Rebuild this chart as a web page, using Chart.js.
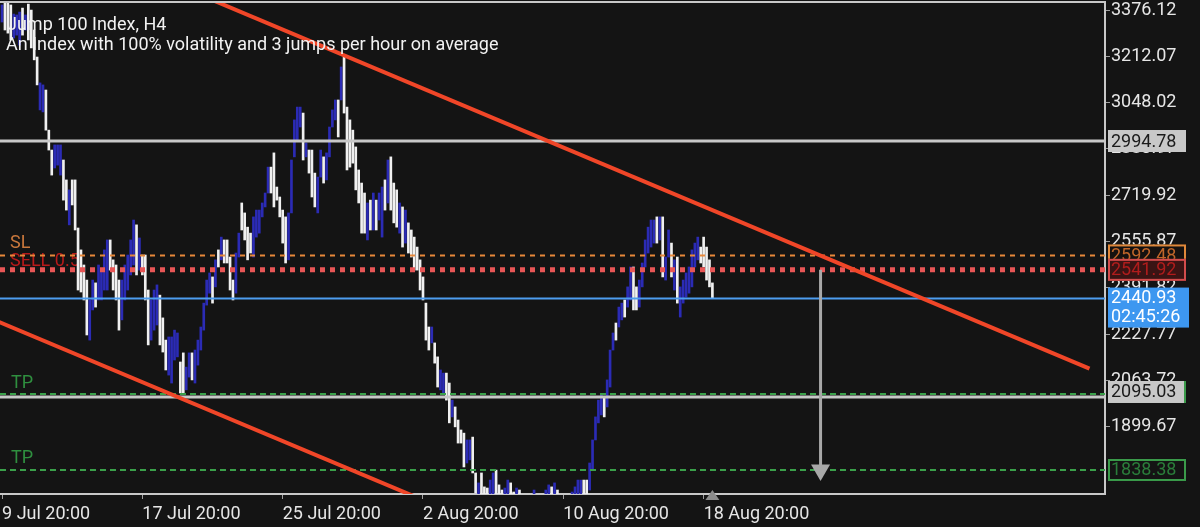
<!DOCTYPE html>
<html>
<head>
<meta charset="utf-8">
<title>Jump 100 Index, H4</title>
<script src="https://cdn.jsdelivr.net/npm/chart.js@4.4.1/dist/chart.umd.min.js"></script>
<style>
  html, body { margin: 0; padding: 0; background: #141414; }
  canvas { display: block; }
</style>
</head>
<body>
<canvas id="chart" width="1200" height="527"></canvas>
<script>
(() => {
	'use strict'

	// H4 bars, one per 4 hours starting 9 Jul 20:00 (open / close, bars look like plain lines)
	const barOpens = [
		3413, 3480, 3480, 3473, 3357, 3367, 3332, 3462, 3385, 3476,
		3455, 3385, 3290, 3104, 3097, 3174, 3033, 2963, 2900, 2910,
		2875, 2928, 2858, 2700, 2858, 2858, 2689, 2612, 2559, 2506,
		2295, 2401, 2496, 2436, 2436, 2471, 2471, 2647, 2577, 2559,
		2506, 2366, 2436, 2471, 2524, 2559, 2700, 2541, 2594, 2594,
		2471, 2295, 2330, 2348, 2453, 2373, 2295, 2172, 2144, 2225,
		2236, 2218, 2250, 2120, 2165, 2250, 2144, 2207, 2260, 2330,
		2418, 2460, 2517, 2482, 2612, 2577, 2647, 2647, 2587, 2506,
		2460, 2587, 2777, 2742, 2692, 2671, 2587, 2657, 2671, 2728,
		2763, 2812, 2903, 2953, 2833, 2798, 2752, 2728, 2577, 2742,
		2939, 2998, 3044, 3093, 2939, 2963, 2963, 2882, 2742, 2868,
		2939, 2858, 2939, 3044, 3069, 3139, 3139, 3290, 3114, 3069,
		3033, 2974, 2893, 2847, 2812, 2647, 2787, 2682, 2787, 2717,
		2657, 2858, 2777, 2939, 2847, 2823, 2671, 2763, 2636, 2707,
		2682, 2657, 2622, 2577, 2517, 2425, 2341, 2285, 2285, 2236,
		2120, 2109, 2179, 2144, 2025, 2060, 2014, 1979, 1968, 1863,
		1874, 1954, 1828, 1733, 1828, 1779, 1775, 1715, 1733, 1838,
		1786, 1768, 1698, 1715, 1793, 1761, 1698, 1768, 1750, 1740,
		1733, 1680, 1698, 1743, 1733, 1733, 1698, 1715, 1779, 1715,
		1768, 1750, 1743, 1733, 1680, 1698, 1715, 1733, 1743, 1803,
		1803, 1768, 1838, 1944, 2004, 2032, 2095, 2060, 2130, 2260,
		2355, 2341, 2366, 2436, 2411, 2436, 2552, 2482, 2411, 2482,
		2552, 2601, 2622, 2636, 2728, 2647, 2728, 2506, 2587, 2636,
		2471, 2587, 2376, 2425, 2446, 2460, 2482, 2552, 2577, 2622,
		2657, 2622, 2577, 2496
	];
	const barCloses = [
		3473, 3385, 3374, 3350, 3441, 3438, 3448, 3367, 3438, 3350,
		3322, 3280, 3192, 3199, 3192, 3033, 2963, 2875, 2981, 2981,
		2981, 2787, 2752, 2823, 2770, 2682, 2471, 2464, 2436, 2313,
		2436, 2506, 2411, 2559, 2541, 2612, 2647, 2541, 2471, 2436,
		2330, 2506, 2559, 2594, 2647, 2717, 2524, 2654, 2524, 2436,
		2278, 2436, 2471, 2489, 2278, 2253, 2190, 2306, 2306, 2330,
		2320, 2109, 2109, 2200, 2250, 2155, 2260, 2295, 2341, 2425,
		2506, 2531, 2425, 2577, 2552, 2657, 2566, 2566, 2471, 2436,
		2601, 2671, 2682, 2647, 2577, 2601, 2728, 2752, 2752, 2777,
		2812, 2903, 2812, 2763, 2787, 2728, 2636, 2566, 2742, 2928,
		3069, 3114, 3114, 2928, 2988, 2882, 2798, 2763, 2868, 2963,
		2847, 2953, 3044, 3104, 3139, 3009, 3255, 3093, 2893, 2903,
		2917, 2823, 2777, 2671, 2671, 2777, 2682, 2812, 2682, 2812,
		2833, 2752, 2928, 2752, 2707, 2692, 2777, 2622, 2752, 2601,
		2587, 2541, 2541, 2471, 2436, 2295, 2260, 2341, 2214, 2130,
		2190, 2179, 2084, 2004, 2084, 1990, 1933, 1933, 1849, 1944,
		1944, 1828, 1758, 1793, 1733, 1715, 1715, 1803, 1828, 1733,
		1715, 1698, 1775, 1803, 1715, 1698, 1775, 1698, 1680, 1680,
		1663, 1750, 1768, 1680, 1663, 1663, 1768, 1786, 1715, 1793,
		1715, 1698, 1680, 1663, 1740, 1761, 1779, 1803, 1803, 1743,
		1743, 1863, 1944, 2025, 2084, 2102, 2025, 2155, 2260, 2320,
		2295, 2411, 2425, 2376, 2482, 2552, 2401, 2401, 2506, 2566,
		2647, 2692, 2717, 2717, 2636, 2728, 2517, 2587, 2682, 2517,
		2577, 2425, 2482, 2506, 2531, 2552, 2612, 2636, 2657, 2566,
		2552, 2506, 2482, 2441
	];

	// Time axis: bar index of each label
	const timeTickIndex = [0, 48, 96, 144, 192, 240];
	const timeTickLabels = ['9 Jul 20:00', '17 Jul 20:00', '25 Jul 20:00', '2 Aug 20:00', '10 Aug 20:00', '18 Aug 20:00'];

	// Price axis labels as printed on the screenshot
	const priceTicks = [3376.12, 3212.07, 3048.02, 2883.97, 2719.92, 2555.87, 2391.82, 2227.77, 2063.72, 1899.67];

	// Levels
	const grayLevels = [2994.78, 2095.03];
	const slLevel = 2592.48;
	const sellLevel = 2541.92;
	const bidLevel = 2440.93;
	const tpLevels = [2105.5, 1838.38];
	const bidTimer = '02:45:26';

	// Trend channel anchors [bar index, price]
	const upperTrend = [[60, 3542], [372, 2195]];
	const lowerTrend = [[-2, 2363], [150, 1707]];
	// Target arrow from entry down to the second TP
	const arrowIndex = 280;

	// View window
	const xMin = -0.7, xMax = 377.3;
	const yMin = 1754, yMax = 3483.4;
	const labelMin = 1662.3, labelMax = 3404.45;

	const bullColor = '#2b2bb5';
	const bearColor = '#f0f0f0';
	const font = 'Roboto';

	const barData = barOpens.map((o, i) => ({ x: i, y: [o, barCloses[i]] }));
	const barColors = barOpens.map((o, i) => barCloses[i] > o ? bullColor : bearColor);

	const hLine = (level, color, width, dash, order) => ({
		type: 'line',
		data: [{ x: xMin, y: level }, { x: xMax, y: level }],
		borderColor: color,
		borderWidth: width,
		borderDash: dash,
		pointRadius: 0,
		order: order
	});
	const trend = (pts) => ({
		type: 'line',
		data: pts.map(p => ({ x: p[0], y: p[1] })),
		borderColor: '#f04628',
		borderWidth: 4,
		pointRadius: 0,
		order: 1
	});

	const datasets = [
		{
			type: 'bar',
			data: barData,
			backgroundColor: barColors,
			borderWidth: 0,
			barThickness: 2,
			order: 10
		},
		hLine(grayLevels[0], '#c8c8c8', 3, [], 6),
		hLine(grayLevels[1], '#c8c8c8', 3, [], 6),
		hLine(tpLevels[0], '#3aa04a', 2, [6, 4], 5),
		hLine(tpLevels[1], '#3aa04a', 2, [6, 4], 5),
		hLine(slLevel, '#e8883a', 2, [5, 5], 4),
		hLine(sellLevel, '#e85656', 5, [5, 5], 3),
		hLine(bidLevel, '#4d9df0', 2, [], 4),
		trend(upperTrend),
		trend(lowerTrend),
		{
			type: 'line',
			data: [{ x: arrowIndex, y: sellLevel }, { x: arrowIndex, y: tpLevels[1] }],
			borderColor: '#a8a8a8',
			borderWidth: 3,
			pointRadius: [0, 11],
			pointStyle: 'triangle',
			pointRotation: 180,
			pointBackgroundColor: '#a8a8a8',
			pointBorderWidth: 0,
			order: 2
		}
	];

	// Price boxes on the right axis, drawn in this order (later ones cover earlier ones)
	const priceBoxes = [
		{ level: grayLevels[0], shift: 0, fill: '#c8c8c8', stroke: null, color: '#1a1a1a' },
		{ level: tpLevels[0], shift: -2, fill: '#141414', stroke: '#3a9a4a', color: '#2a7d3a' },
		{ level: grayLevels[1], shift: -5, fill: '#c8c8c8', stroke: null, color: '#1a1a1a', width: 76 },
		{ level: slLevel, shift: 0, fill: '#161210', stroke: '#e0883a', color: '#c0662a' },
		{ level: sellLevel, shift: 0, fill: '#3a1414', stroke: '#d44c4c', color: '#b01c1c' },
		{ level: tpLevels[1], shift: 0, fill: '#141414', stroke: '#3a9a4a', color: '#2a7d3a' }
	];

	const overlay = {
		id: 'overlay',
		beforeDraw(chart) {
			const { ctx, width, height } = chart;
			ctx.save();
			ctx.fillStyle = '#141414';
			ctx.fillRect(0, 0, width, height);
			ctx.restore();
		},
		beforeDatasetsDraw(chart) {
			// order labels sit under the lines and bars
			const { ctx, scales: { y } } = chart;
			ctx.save();
			ctx.font = '18px ' + font;
			ctx.textBaseline = 'middle';
			ctx.fillStyle = '#c8773c';
			ctx.fillText('SL', 10, y.getPixelForValue(slLevel) - 12);
			ctx.fillStyle = '#b81a1a';
			ctx.fillText('SELL 0.5', 10, y.getPixelForValue(sellLevel) - 8);
			ctx.fillStyle = '#2f8f3f';
			tpLevels.forEach(l => ctx.fillText('TP', 11, y.getPixelForValue(l) - 11));
			ctx.restore();
		},
		afterDatasetsDraw(chart) {
			const { ctx } = chart;
			ctx.save();
			ctx.font = '18px ' + font;
			ctx.textBaseline = 'middle';
			ctx.fillStyle = '#f2f2f2';
			ctx.fillText('Jump 100 Index, H4', 7, 25);
			ctx.fillText('An Index with 100% volatility and 3 jumps per hour on average', 6, 45);
			ctx.restore();
		},
		afterDraw(chart) {
			const { ctx, chartArea, scales: { x, y } } = chart;
			ctx.save();
			// top frame line
			ctx.fillStyle = '#c8c8c8';
			ctx.fillRect(0, chartArea.top - 1, chartArea.right, 2);

			// last bar marker on the time axis
			const mx = x.getPixelForValue(barOpens.length - 1);
			ctx.fillStyle = '#8c8c8c';
			ctx.beginPath();
			ctx.moveTo(mx - 7, chartArea.bottom + 6);
			ctx.lineTo(mx + 7, chartArea.bottom + 6);
			ctx.lineTo(mx, chartArea.bottom - 4);
			ctx.closePath();
			ctx.fill();

			ctx.font = '18px ' + font;
			ctx.textBaseline = 'middle';
			const bx = chartArea.right + 3;
			priceBoxes.forEach(b => {
				const cy = y.getPixelForValue(b.level) + b.shift;
				const w = b.width || 78;
				ctx.fillStyle = b.fill;
				ctx.fillRect(bx, cy - 11, w, 22);
				if (b.stroke) {
					ctx.strokeStyle = b.stroke;
					ctx.lineWidth = 2;
					ctx.strokeRect(bx + 1, cy - 10, w - 2, 20);
				}
				ctx.fillStyle = b.color;
				ctx.fillText(b.level.toFixed(2), bx + 3, cy + 1);
			});

			// bid box with countdown
			const by = y.getPixelForValue(bidLevel) - 11;
			ctx.fillStyle = '#3d97f0';
			ctx.fillRect(bx, by, 81, 40);
			ctx.fillStyle = '#ffffff';
			ctx.fillText(bidLevel.toFixed(2), bx + 3, by + 11);
			ctx.fillText(bidTimer, bx + 3, by + 30);
			ctx.restore();
		}
	};

	const chartEl = document.getElementById('chart');
	new Chart(chartEl, {
		type: 'bar',
		data: { datasets: datasets },
		options: {
			responsive: false,
			animation: false,
			events: [],
			layout: { autoPadding: false, padding: { top: 2, left: 0, right: 0, bottom: 0 } },
			plugins: {
				legend: { display: false },
				tooltip: { enabled: false }
			},
			scales: {
				x: {
					type: 'linear',
					offset: false,
					min: xMin,
					max: xMax,
					afterBuildTicks: (scale) => {
						scale.ticks = timeTickIndex.map(v => ({ value: v }));
					},
					afterFit: (scale) => {
						scale.height = 33;
						scale.paddingLeft = 0;
						scale.paddingRight = 0;
					},
					ticks: {
						autoSkip: false,
						maxRotation: 0,
						align: 'start',
						padding: 5,
						color: '#e6e6e6',
						font: { family: font, size: 18 },
						callback: (value) => timeTickLabels[timeTickIndex.indexOf(value)]
					},
					grid: {
						offset: false,
						drawOnChartArea: false,
						drawTicks: true,
						tickLength: 5,
						color: '#a0a0a0'
					},
					border: { display: true, color: '#c8c8c8', width: 2 }
				},
				y: {
					type: 'linear',
					display: false,
					min: yMin,
					max: yMax
				},
				yLabels: {
					axis: 'y',
					type: 'linear',
					position: 'right',
					min: labelMin,
					max: labelMax,
					afterBuildTicks: (scale) => {
						scale.ticks = priceTicks.map(v => ({ value: v }));
					},
					afterFit: (scale) => {
						scale.width = 95;
						scale.paddingTop = 0;
						scale.paddingBottom = 0;
					},
					ticks: {
						padding: 1,
						color: '#e6e6e6',
						font: { family: font, size: 18 },
						callback: (value) => value.toFixed(2)
					},
					grid: {
						drawOnChartArea: false,
						drawTicks: true,
						tickLength: 5,
						color: '#a0a0a0'
					},
					border: { display: true, color: '#c8c8c8', width: 2 }
				}
			}
		},
		plugins: [overlay]
	});
})()
</script>
</body>
</html>
